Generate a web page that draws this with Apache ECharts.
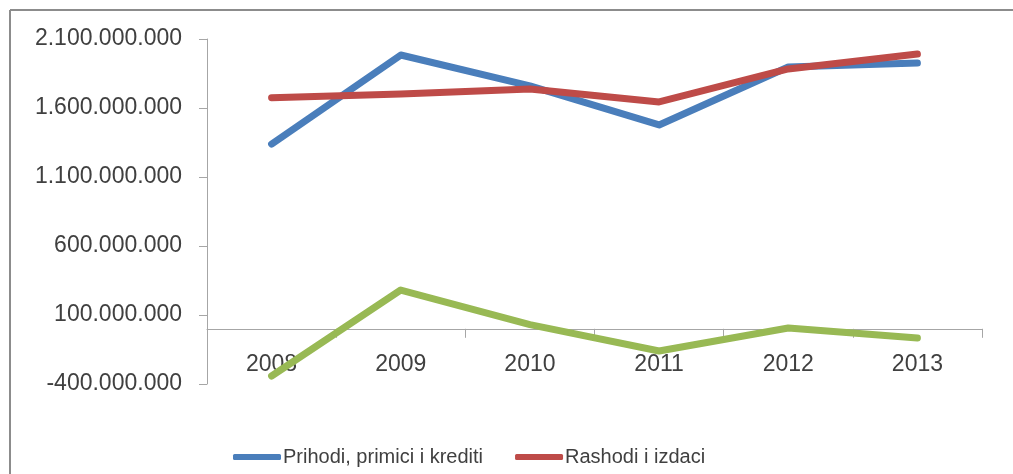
<!DOCTYPE html>
<html>
<head>
<meta charset="utf-8">
<script src="https://cdn.jsdelivr.net/npm/echarts@6/dist/echarts.min.js"></script>
<style>
  html, body { margin: 0; padding: 0; background: #fff; }
  #chart { width: 1013px; height: 474px; }
</style>
</head>
<body>
<div id="chart"></div>
<script>
// godine
const years = ['2008', '2009', '2010', '2011', '2012', '2013'];
// prihodi, primici i krediti
const prihodi = [1339000000, 1984000000, 1760000000, 1477000000, 1897000000, 1926000000];
// rashodi i izdaci
const rashodi = [1675000000, 1701000000, 1738000000, 1644000000, 1883000000, 1991000000];
// razlika (treća linija, bez legende)
const razlika = [-342000000, 281000000, 30000000, -161000000, 6000000, -67000000];

const seriesNames = ['Prihodi, primici i krediti', 'Rashodi i izdaci', 'Razlika'];
const colors = ['#4a7ebb', '#be4b48', '#98b954'];

const fmt = v => {
  const s = String(Math.abs(v)).replace(/\B(?=(\d{3})+(?!\d))/g, '.');
  return (v < 0 ? '-' : '') + s;
};

const myChart = echarts.init(document.getElementById('chart'));
const option = {
  animation: false,
  grid: { left: 207, right: 31, top: 39, bottom: 90 },
  graphic: [
    { type: 'line', shape: { x1: 10, y1: 10, x2: 1013, y2: 10 }, style: { stroke: '#8c8c8c', lineWidth: 2 } },
    { type: 'line', shape: { x1: 10, y1: 10, x2: 10, y2: 474 }, style: { stroke: '#8c8c8c', lineWidth: 2 } }
  ],
  legend: {
    data: [seriesNames[0], seriesNames[1]],
    left: 228,
    top: 442,
    icon: 'roundRect',
    itemWidth: 48,
    itemHeight: 6,
    itemGap: 32,
    textStyle: { fontSize: 20, color: '#404040', fontFamily: 'Liberation Sans', padding: [0, 0, 0, -3] }
  },
  xAxis: {
    type: 'category',
    data: years,
    boundaryGap: true,
    axisLine: { onZero: true, lineStyle: { color: '#a6a6a6', width: 1 } },
    axisTick: { show: true, alignWithLabel: false, length: 9, lineStyle: { color: '#a6a6a6' } },
    axisLabel: { fontSize: 23, color: '#404040', fontFamily: 'Liberation Sans', margin: -31 },
    splitLine: { show: false }
  },
  yAxis: {
    type: 'value',
    min: -400000000,
    max: 2100000000,
    interval: 500000000,
    axisLine: { show: true, onZero: false, lineStyle: { color: '#a6a6a6', width: 1 } },
    axisTick: { show: true, length: 8, lineStyle: { color: '#a6a6a6' } },
    axisLabel: { fontSize: 23, color: '#404040', fontFamily: 'Liberation Sans', margin: 25, formatter: fmt },
    splitLine: { show: false }
  },
  series: [prihodi, rashodi, razlika].map((d, i) => ({
    name: seriesNames[i],
    type: 'line',
    data: d,
    symbol: 'none',
    lineStyle: { width: 7, color: colors[i], cap: 'round', join: 'round' },
    itemStyle: { color: colors[i] },
    z: 2 + i
  }))
};
myChart.setOption(option);
</script>
</body>
</html>
